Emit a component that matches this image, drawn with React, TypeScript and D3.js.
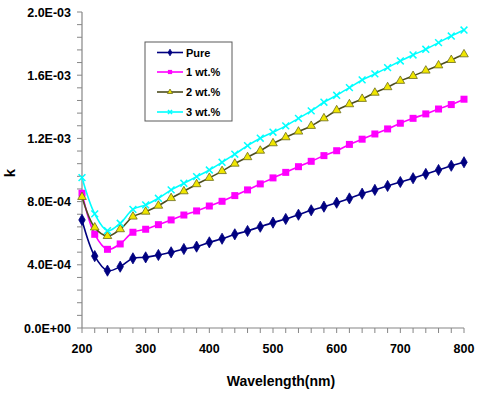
import React from "react";
import * as d3 from "d3";

const wavelengths = [200,220,240,260,280,300,320,340,360,380,400,420,440,460,480,500,520,540,560,580,600,620,640,660,680,700,720,740,760,780,800];
const pure = [6.84,4.55,3.63,3.88,4.41,4.47,4.62,4.79,5.00,5.15,5.42,5.65,5.93,6.14,6.41,6.67,6.90,7.17,7.45,7.68,7.93,8.20,8.50,8.74,8.99,9.24,9.48,9.75,10.0,10.27,10.49];
const wt1 = [8.53,5.93,4.98,5.32,6.06,6.25,6.54,6.84,7.15,7.41,7.72,8.02,8.38,8.74,9.12,9.50,9.85,10.21,10.55,10.91,11.22,11.62,11.95,12.28,12.60,12.96,13.27,13.55,13.86,14.14,14.48];
const wt2 = [8.29,6.36,5.82,6.25,7.05,7.36,7.74,8.22,8.65,9.10,9.50,9.93,10.40,10.81,11.22,11.69,12.07,12.43,12.79,13.27,13.78,14.16,14.50,14.89,15.24,15.64,15.95,16.29,16.62,16.96,17.32];
const wt3 = [9.52,7.22,6.16,6.63,7.51,7.79,8.21,8.74,9.16,9.58,10.0,10.49,11.0,11.54,12.01,12.39,12.79,13.27,13.74,14.29,14.73,15.21,15.70,16.08,16.48,16.90,17.28,17.64,18.06,18.48,18.86];
const seriesNames = ["Pure", "1 wt.%", "2 wt.%", "3 wt.%"];
const valueScale = 1e-4; // values above are in units of 1E-04
const yTickValues = [0, 4e-4, 8e-4, 1.2e-3, 1.6e-3, 2.0e-3];
const yTickLabels = ["0.0E+00", "4.0E-04", "8.0E-04", "1.2E-03", "1.6E-03", "2.0E-03"];
const xTickValues = [200, 300, 400, 500, 600, 700, 800];

const FONT = "'Liberation Sans', Arial, sans-serif";

export default function App() {
  const W = 480, H = 398;
  const left = 82, right = 464, top = 12, bottom = 328;
  const x = d3.scaleLinear().domain([200, 800]).range([left, right]);
  const y = d3.scaleLinear().domain([0, 2e-3]).range([bottom, top]);

  const seriesData = [pure, wt1, wt2, wt3];
  const styles = [
    { line: "#000080", kind: "diamond", fill: "#000080", stroke: "#000080" },
    { line: "#ff00ff", kind: "square", fill: "#ff00ff", stroke: "#ff00ff" },
    { line: "#4d4d1f", kind: "triangle", fill: "#f0e600", stroke: "#6b6b1a" },
    { line: "#00ffff", kind: "x", fill: "none", stroke: "#00ffff" },
  ];

  const lineGen = d3
    .line<[number, number]>()
    .x((d) => x(d[0]))
    .y((d) => y(d[1]))
    .curve(d3.curveCatmullRom.alpha(0.5));

  const marker = (kind: string, cx: number, cy: number, s: any, key: string, k = 1) => {
    if (kind === "diamond") {
      const p = d3.symbol().type(d3.symbolDiamond).size(36 * k * k)();
      return <path key={key} d={p || ""} transform={`translate(${cx},${cy})`} fill={s.fill} stroke={s.stroke} strokeWidth={0.8} />;
    }
    if (kind === "square") {
      const h = 3.5 * k;
      return <rect key={key} x={cx - h} y={cy - h} width={2 * h} height={2 * h} fill={s.fill} />;
    }
    if (kind === "triangle") {
      const p = d3.symbol().type(d3.symbolTriangle).size(32 * k * k)();
      return <path key={key} d={p || ""} transform={`translate(${cx},${cy})`} fill={s.fill} stroke={s.stroke} strokeWidth={0.8} />;
    }
    const r = 3.4 * k;
    return (
      <path key={key} d={`M${cx - r},${cy - r}L${cx + r},${cy + r}M${cx - r},${cy + r}L${cx + r},${cy - r}`} stroke={s.stroke} strokeWidth={1.5} fill="none" />
    );
  };

  const yMinor = d3.range(0, 26).map((i) => i * 8e-5);
  const xMinor = d3.range(0, 31).map((i) => 200 + i * 20);

  const legendX = 145, legendY = 42;
  const rows = [52.5, 72, 92, 112];

  return (
    <svg width={W} height={H} style={{ position: "absolute", left: 0, top: 0, background: "#fff" }} fontFamily={FONT}>
      <rect x={0} y={0} width={W} height={H} fill="#fff" />
      {/* axes */}
      <line x1={left} x2={left} y1={top} y2={bottom} stroke="#868686" strokeWidth={1.2} />
      <line x1={left} x2={right} y1={bottom} y2={bottom} stroke="#868686" strokeWidth={1.2} />
      {yMinor.map((v, i) => (
        <line key={"yt" + i} x1={left - 5} x2={left} y1={y(v)} y2={y(v)} stroke="#868686" strokeWidth={1} />
      ))}
      {xMinor.map((v, i) => (
        <line key={"xt" + i} x1={x(v)} x2={x(v)} y1={bottom} y2={bottom + 5} stroke="#868686" strokeWidth={1} />
      ))}
      {yTickValues.map((v, i) => (
        <text key={"yl" + i} x={71} y={y(v) + 4.5} textAnchor="end" fontSize={12.5} fontWeight="bold" fill="#000">
          {yTickLabels[i]}
        </text>
      ))}
      {xTickValues.map((v, i) => (
        <text key={"xl" + i} x={x(v)} y={353} textAnchor="middle" fontSize={12.5} fontWeight="bold" fill="#000">
          {v}
        </text>
      ))}
      <text x={281} y={386} textAnchor="middle" fontSize={14} fontWeight="bold" fill="#000">Wavelength(nm)</text>
      <text transform="translate(15,173) rotate(-90)" textAnchor="middle" fontSize={15} fontWeight="bold" fill="#000">k</text>

      {/* series */}
      {seriesData.map((arr, si) => {
        const pts: [number, number][] = arr.map((v, i) => [wavelengths[i], v * valueScale]);
        const s = styles[si];
        return (
          <g key={"s" + si}>
            <path d={lineGen(pts) || ""} fill="none" stroke={s.line} strokeWidth={1.6} />
            {pts.map((p, i) => marker(s.kind, x(p[0]), y(p[1]), s, `m${si}-${i}`))}
          </g>
        );
      })}

      {/* legend */}
      <rect x={legendX} y={legendY} width={87} height={79} fill="#fff" stroke="#5a5a5a" strokeWidth={1} />
      {seriesNames.map((name, i) => {
        const s = styles[i];
        return (
          <g key={"lg" + i}>
            <line x1={157} x2={183} y1={rows[i]} y2={rows[i]} stroke={s.line} strokeWidth={1.6} />
            {marker(s.kind, 170, rows[i], s, "lm" + i, 0.6)}
            <text x={186} y={rows[i] + 4} fontSize={11} fontWeight="bold" fill="#000">{name}</text>
          </g>
        );
      })}
    </svg>
  );
}
